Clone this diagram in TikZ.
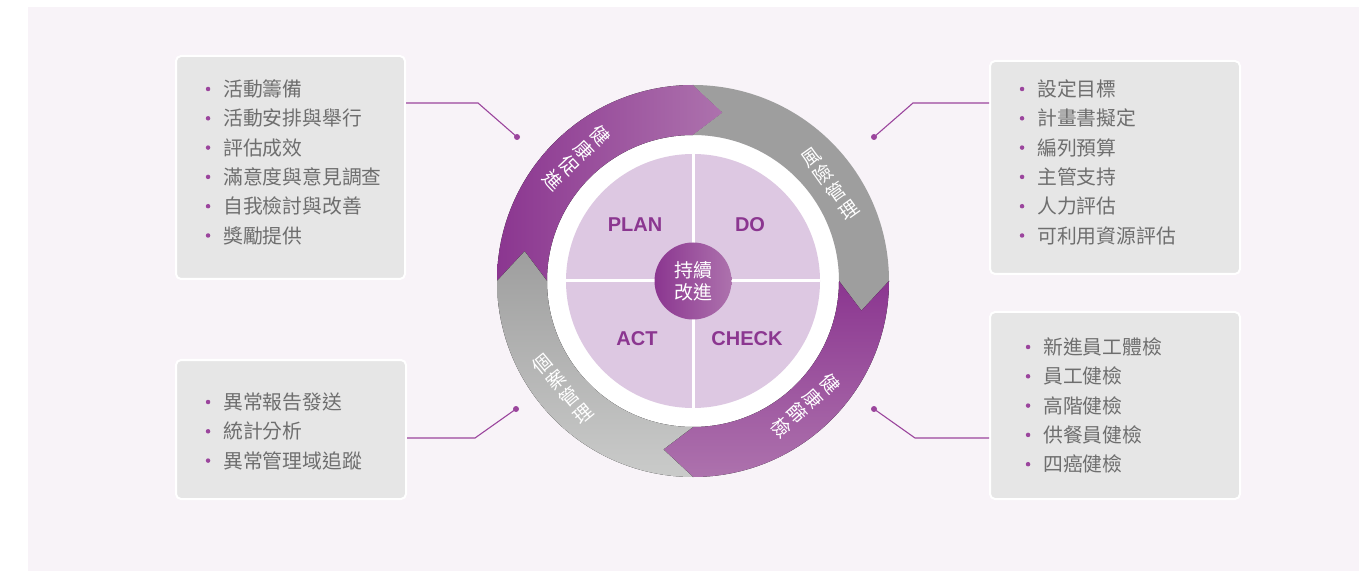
\documentclass[tikz,border=0pt]{standalone}
\usepackage{fontspec}
\usepackage{xcolor}
\usepackage{tikz}
\usetikzlibrary{shapes}
\newfontfamily\cjk{Noto Sans CJK TC}
\newfontfamily\pdcafont{Liberation Sans}
\definecolor{bgpink}{HTML}{F8F3F8}
\definecolor{boxgray}{HTML}{E6E6E6}
\definecolor{textgray}{HTML}{6E6E6E}
\definecolor{darkpurple}{HTML}{8B3690}
\definecolor{lightpurple}{HTML}{AD72AD}
\definecolor{ringgray}{HTML}{9E9E9E}
\definecolor{lightgray}{HTML}{CACBCA}
\definecolor{piefill}{HTML}{DDC8E2}
\definecolor{linepurple}{HTML}{9B459D}
\tikzstyle{infobox} = [rectangle, draw=white, line width=2pt, fill=boxgray,
                       rounded corners=5pt, inner sep=0pt]
\tikzstyle{item} = [anchor=west, inner sep=0pt, text=textgray,
                    font=\cjk\fontsize{19.8}{20}\selectfont,
                    label={[circle, fill=linepurple, inner sep=0pt, minimum size=4.5pt,
                            label distance=12.5pt]left:{}}]
\tikzstyle{pdca} = [text=darkpurple, font=\pdcafont\bfseries\fontsize{20}{22}\selectfont]
\tikzstyle{ringtext} = [text=white, inner sep=0pt, align=center,
                        font=\cjk\fontsize{19}{21.8}\selectfont]
\tikzstyle{dot} = [circle, fill=linepurple, inner sep=0pt, minimum size=6pt]
\tikzstyle{connector} = [draw=linepurple, line width=1.1pt]

\begin{document}
\begin{tikzpicture}[x=1pt, y=1pt]
\useasboundingbox (0,0) rectangle (1371,571);
\fill[white] (0,0) rectangle (1371,571);
\fill[bgpink] (28,0) rectangle (1359,564);

% Ring
\begin{scope}[shift={(693,290)}]
\fill[white] (0,0) circle (146pt);
%health promotion
\fill[left color=darkpurple, right color=lightpurple]
  (180:196pt) arc[start angle=180, end angle=90, radius=196pt] -- (80:171pt)
  -- (90:146pt) arc[start angle=90, end angle=180, radius=146pt] -- (170:171pt) -- cycle;
%risk management
\fill[ringgray]
  (90:196pt) arc[start angle=90, end angle=0, radius=196pt] -- (-10:171pt)
  -- (0:146pt) arc[start angle=0, end angle=90, radius=146pt] -- (80:171pt) -- cycle;
%health screening
\fill[top color=darkpurple, bottom color=lightpurple]
  (0:196pt) arc[start angle=0, end angle=-90, radius=196pt] -- (-100:171pt)
  -- (-90:146pt) arc[start angle=-90, end angle=0, radius=146pt] -- (-10:171pt) -- cycle;
%case management
\fill[top color=ringgray, bottom color=lightgray]
  (-90:196pt) arc[start angle=-90, end angle=-180, radius=196pt] -- (170:171pt)
  -- (180:146pt) arc[start angle=180, end angle=270, radius=146pt] -- (-100:171pt) -- cycle;

% ring labels
\node[ringtext, rotate=313.5] (promo) at (133.5:169pt) {健\\康\\促\\進};
\node[ringtext, rotate=35.5] (risk) at (35.5:168pt) {風\\險\\管\\理};
\node[ringtext, rotate=-48] (screen) at (-48:168pt) {健\\康\\篩\\檢};
\node[ringtext, rotate=399.5] (cases) at (219.5:169pt) {個\\案\\管\\理};

% PDCA
\fill[piefill] (0,0) circle (127pt);
\draw[white, line width=3pt] (0,127) -- (0,-127);
\draw[white, line width=3pt] (-127,0) -- (127,0);
\node[pdca] (plan) at (-58,56) {PLAN};
\node[pdca] (do) at (57,56) {DO};
\node[pdca] (act) at (-56,-58) {ACT};
\node[pdca] (check) at (54,-58) {CHECK};
\node[circle, minimum size=77pt, inner sep=0pt, left color=darkpurple, right color=lightpurple,
      text=white, align=center, font=\cjk\fontsize{19}{22}\selectfont] (kaizen) at (0,0) {持續\\改進};
\end{scope}

% Boxes
\node[infobox, minimum width=229pt, minimum height=223pt] (boxTL) at (290.5,403.5) {};
\node[infobox, minimum width=250pt, minimum height=213pt] (boxTR) at (1115,403.5) {};
\node[infobox, minimum width=230pt, minimum height=139pt] (boxBL) at (291,141.5) {};
\node[infobox, minimum width=250pt, minimum height=187pt] (boxBR) at (1115,165.5) {};

\foreach \txt [count=\i] in {活動籌備,活動安排與舉行,評估成效,滿意度與意見調查,自我檢討與改善,獎勵提供}
  \node[item] (tl\i) at (223,{482-29.3*(\i-1)}) {\txt};
\foreach \txt [count=\i] in {設定目標,計畫書擬定,編列預算,主管支持,人力評估,可利用資源評估}
  \node[item] (tr\i) at (1037,{482-29.3*(\i-1)}) {\txt};
\foreach \txt [count=\i] in {異常報告發送,統計分析,異常管理域追蹤}
  \node[item] (bl\i) at (223,{169-29.3*(\i-1)}) {\txt};
\foreach \txt [count=\i] in {新進員工體檢,員工健檢,高階健檢,供餐員健檢,四癌健檢}
  \node[item] (br\i) at (1043,{224-29.3*(\i-1)}) {\txt};

% Connectors
\node[dot] (dotTL) at (517,434) {};
\node[dot] (dotTR) at (874,434) {};
\node[dot] (dotBL) at (516,162) {};
\node[dot] (dotBR) at (874,162) {};
\coordinate (cornerTL) at (478,468);
\coordinate (cornerTR) at (913,468);
\coordinate (cornerBL) at (475,133);
\coordinate (cornerBR) at (915,133);
\draw[connector] (boxTL.east |- cornerTL) -- (cornerTL) -- (dotTL.center);
\draw[connector] (boxTR.west |- cornerTR) -- (cornerTR) -- (dotTR.center);
\draw[connector] (boxBL.east |- cornerBL) -- (cornerBL) -- (dotBL.center);
\draw[connector] (boxBR.west |- cornerBR) -- (cornerBR) -- (dotBR.center);
\end{tikzpicture}
\end{document}
